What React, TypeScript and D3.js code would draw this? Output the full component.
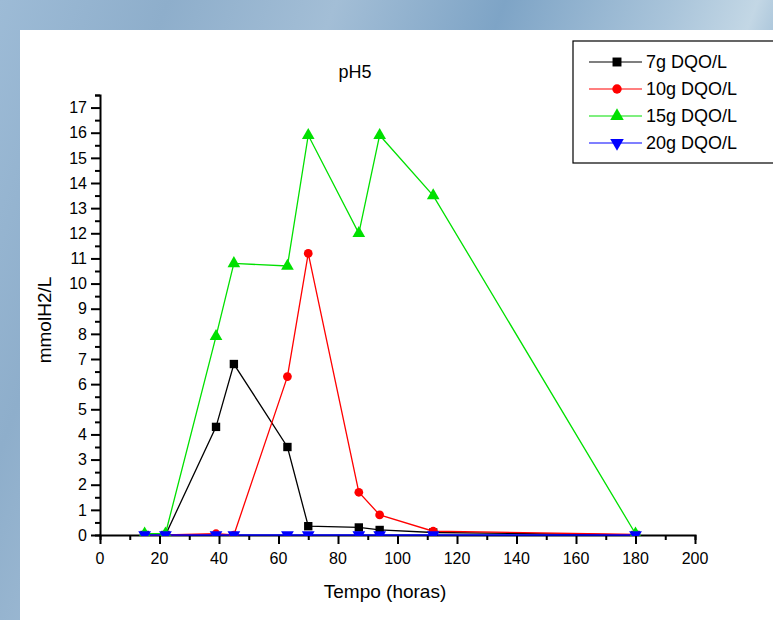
import * as d3 from 'd3';
import { useEffect, useRef } from 'react';

const tempo = [15, 22, 39, 45, 63, 70, 87, 94, 112, 180];
const g7 = [0, 0, 4.3, 6.8, 3.5, 0.35, 0.3, 0.2, 0.1, 0];
const g10 = [0, 0, 0.05, 0, 6.3, 11.2, 1.7, 0.8, 0.15, 0.02];
const g15 = [0.05, 0.05, 7.9, 10.8, 10.7, 15.9, 12.0, 15.9, 13.5, 0.05];
const g20 = [0, 0, 0, 0, 0, 0, 0, 0, 0, 0];

const seriesNames = ['7g DQO/L', '10g DQO/L', '15g DQO/L', '20g DQO/L'];
const seriesColors = ['#000000', '#ff0000', '#00e000', '#0000ff'];
const seriesSymbols = [d3.symbolSquare, d3.symbolCircle, d3.symbolTriangle, d3.symbolTriangle];
const xTicks = [0, 20, 40, 60, 80, 100, 120, 140, 160, 180, 200];
const yTicks = d3.range(0, 18, 1);

const W = 773,
    H = 620;
const font = '"Liberation Sans", Arial, sans-serif';

export default function App() {
    const svgRef = useRef<SVGSVGElement>(null);
    useEffect(() => {
        if (!svgRef.current) return;
        const svg = d3.select(svgRef.current);
        svg.selectAll('*').remove();

        const margin = { left: 100, right: 78, top: 95, bottom: 85 };
        const x = d3.scaleLinear().domain([0, 200]).range([margin.left, W - margin.right]);
        const y = d3.scaleLinear().domain([0, 17.5]).range([H - margin.bottom, margin.top]);

        // window-like blue background
        const defs = svg.append('defs');
        const grad = defs.append('linearGradient').attr('id', 'bg').attr('x1', 0).attr('x2', 1).attr('y1', 0).attr('y2', 0.3);
        [
            [0, '#9dbbd6'],
            [0.2, '#8eaecb'],
            [0.4, '#a3bed6'],
            [0.6, '#7ea4c6'],
            [0.8, '#a9c4da'],
            [0.9, '#c3d7e5'],
            [1, '#7fa6c8'],
        ].forEach(([o, c]) => grad.append('stop').attr('offset', o as number).attr('stop-color', c as string));
        svg.append('rect').attr('width', W).attr('height', H).attr('fill', 'url(#bg)');
        svg.append('rect').attr('x', 20).attr('y', 30).attr('width', W - 20).attr('height', H - 30).attr('fill', '#ffffff');

        const baseY = y(0);
        defs.append('clipPath')
            .attr('id', 'plot')
            .append('rect')
            .attr('x', margin.left)
            .attr('y', margin.top)
            .attr('width', W - margin.right - margin.left)
            .attr('height', baseY - margin.top + 1);

        // x axis
        const gx = svg
            .append('g')
            .attr('transform', 'translate(0,' + baseY + ')')
            .call(d3.axisBottom(x).tickValues(d3.range(0, 201, 10)).tickSize(5).tickFormat(() => ''));
        gx.selectAll('.tick').filter((d) => (d as number) % 20 === 0).select('line').attr('y2', 9);
        gx.append('g')
            .selectAll('text')
            .data(xTicks)
            .join('text')
            .attr('x', (d) => x(d))
            .attr('y', 29)
            .attr('text-anchor', 'middle')
            .attr('fill', '#000')
            .style('font-family', font)
            .style('font-size', '16px')
            .text((d) => d);

        // y axis
        const gy = svg
            .append('g')
            .attr('transform', 'translate(' + margin.left + ',0)')
            .call(d3.axisLeft(y).tickValues(d3.range(0, 17.6, 0.5)).tickSize(5).tickFormat(() => ''));
        gy.selectAll('.tick').filter((d) => Number.isInteger(d as number)).select('line').attr('x2', -9);
        gy.append('g')
            .selectAll('text')
            .data(yTicks)
            .join('text')
            .attr('x', -13)
            .attr('y', (d) => y(d))
            .attr('dy', '0.36em')
            .attr('text-anchor', 'end')
            .attr('fill', '#000')
            .style('font-family', font)
            .style('font-size', '16px')
            .text((d) => d);
        svg.selectAll('.domain').attr('stroke', '#000').attr('stroke-width', 2);
        svg.selectAll('.tick line').attr('stroke', '#000').attr('stroke-width', 2);

        // titles
        svg.append('text')
            .attr('x', 355)
            .attr('y', 78)
            .attr('text-anchor', 'middle')
            .style('font-family', font)
            .style('font-size', '18px')
            .text('pH5');
        svg.append('text')
            .attr('x', 385)
            .attr('y', 598)
            .attr('text-anchor', 'middle')
            .style('font-family', font)
            .style('font-size', '19px')
            .text('Tempo (horas)');
        svg.append('text')
            .attr('transform', 'translate(51,' + 320 + ') rotate(-90)')
            .attr('text-anchor', 'middle')
            .style('font-family', font)
            .style('font-size', '19px')
            .text('mmolH2/L');

        // series, clipped to the frame like the original plot
        const allSeries = [g7, g10, g15, g20];
        const line = d3
            .line<number>()
            .x((_, i) => x(tempo[i]))
            .y((d) => y(d));
        const plot = svg.append('g').attr('clip-path', 'url(#plot)');
        allSeries.forEach((vals, s) => {
            plot.append('path').attr('d', line(vals)).attr('fill', 'none').attr('stroke', seriesColors[s]).attr('stroke-width', 1.3);
        });
        allSeries.forEach((vals, s) => {
            const sym = d3.symbol().type(seriesSymbols[s]).size(s === 1 ? 60 : 70);
            plot.append('g')
                .selectAll('path')
                .data(vals)
                .join('path')
                .attr('d', sym)
                .attr('transform', (d, i) => 'translate(' + x(tempo[i]) + ',' + y(d) + ')' + (s === 3 ? ' rotate(180)' : ''))
                .attr('fill', seriesColors[s]);
        });

        // legend
        const lg = svg.append('g');
        lg.append('rect')
            .attr('x', 573)
            .attr('y', 41)
            .attr('width', 230)
            .attr('height', 122)
            .attr('fill', '#fff')
            .attr('stroke', '#000')
            .attr('stroke-width', 1.2);
        seriesNames.forEach((name, i) => {
            const ly = 62 + i * 27;
            lg.append('line').attr('x1', 589).attr('x2', 642).attr('y1', ly).attr('y2', ly).attr('stroke', seriesColors[i]).attr('stroke-width', 1.2);
            lg.append('path')
                .attr('d', d3.symbol().type(seriesSymbols[i]).size(i === 1 ? 70 : 80)())
                .attr('transform', 'translate(617,' + ly + ')' + (i === 3 ? ' rotate(180)' : ''))
                .attr('fill', seriesColors[i]);
            lg.append('text')
                .attr('x', 646)
                .attr('y', ly)
                .attr('dy', '0.36em')
                .style('font-family', font)
                .style('font-size', '18px')
                .text(name);
        });
    });
    return (
        <div style={{ position: 'absolute', left: 0, top: 0 }}>
            <svg ref={svgRef} width={W} height={H} style={{ display: 'block' }} />
        </div>
    );
}
